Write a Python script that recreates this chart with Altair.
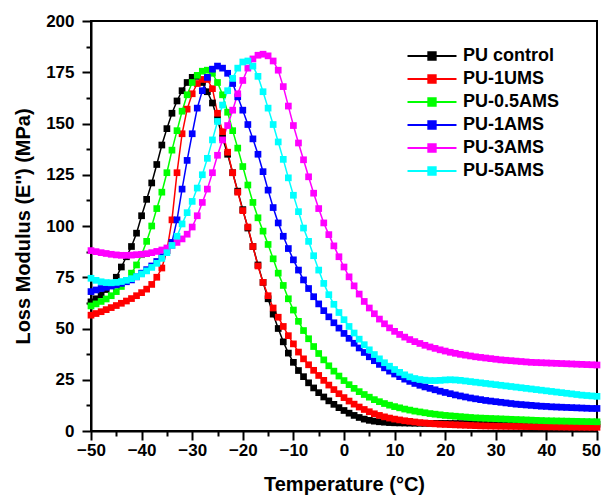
import altair as alt
import pandas as pd

temps = list(range(-50, 51))
series_names = ["PU control", "PU-1UMS", "PU-0.5AMS", "PU-1AMS", "PU-3AMS", "PU-5AMS"]
series_colors = ["#000000", "#ff0000", "#00ff00", "#0000ff", "#ff00ff", "#00ffff"]

pu_control = [63, 64.5, 66.5, 69, 71.5, 75, 80, 85, 90, 96.5,
              105, 113, 121, 130, 139.5, 147.5, 155, 161, 166, 170,
              172.5, 173, 170, 165.5, 160, 152, 143, 135, 126, 117,
              108, 99, 90, 81, 72.5, 64.5, 57, 50, 43.5, 38,
              33.5, 29.5, 26.5, 23.5, 21, 18.7, 16.6, 14.7, 13, 11.4,
              10, 8.7, 7.6, 6.6, 5.8, 5.2, 4.8, 4.5, 4.3, 4.1,
              4, 3.95, 3.9, 3.85, 3.8, 3.78, 3.76, 3.74, 3.72, 3.7,
              3.68, 3.66, 3.64, 3.62, 3.6, 3.58, 3.56, 3.54, 3.52, 3.5,
              3.49, 3.48, 3.47, 3.46, 3.45, 3.44, 3.43, 3.42, 3.41, 3.4,
              3.39, 3.38, 3.37, 3.36, 3.35, 3.34, 3.33, 3.32, 3.31, 3.3, 3.3]
pu_1ums = [56.5, 57.3, 58.2, 59.2, 60.2, 61.2, 62.3, 63.4, 64.6, 66,
           67.5, 69.2, 71.5, 75, 79.5, 88, 103, 126, 145, 157,
           164.5, 169.5, 171.5, 171.5, 167, 155, 146, 136, 126, 116.5,
           107.5, 99.5, 90, 80.5, 72.5, 66, 60, 55.5, 51, 46.5,
           42.5, 38.5, 35.2, 32.3, 29.6, 27.1, 24.7, 22.4, 20.2, 18.2,
           16.3, 14.6, 13.1, 11.7, 10.5, 9.4, 8.4, 7.6, 6.9, 6.3,
           5.8, 5.4, 5, 4.7, 4.4, 4.1, 3.9, 3.7, 3.5, 3.3,
           3.2, 3.1, 3, 2.9, 2.8, 2.7, 2.6, 2.5, 2.45, 2.4,
           2.35, 2.3, 2.27, 2.24, 2.21, 2.18, 2.15, 2.12, 2.09, 2.06,
           2.03, 2.0, 1.97, 1.94, 1.91, 1.88, 1.86, 1.84, 1.82, 1.81, 1.8]
pu_05ams = [61, 62, 63.2, 64.4, 66, 68, 70.5, 73.5, 77, 81,
            86, 92.5, 100, 108.5, 116.5, 126, 137, 146.5, 156, 164,
            170, 173.5, 175.5, 176, 174.5, 170, 164, 155.5, 146.5, 138,
            129, 120, 111.5, 104, 97.5, 91, 84, 77, 71, 64.5,
            59, 53.5, 49, 45, 41.2, 37.8, 34.7, 31.8, 29.2, 26.8,
            24.6, 22.6, 20.8, 19.2, 17.8, 16.5, 15.3, 14.3, 13.4, 12.6,
            11.9, 11.3, 10.7, 10.2, 9.7, 9.3, 8.9, 8.5, 8.2, 7.9,
            7.6, 7.4, 7.2, 7, 6.8, 6.6, 6.4, 6.3, 6.2, 6.1,
            6, 5.9, 5.8, 5.7, 5.6, 5.5, 5.4, 5.3, 5.2, 5.1,
            5.0, 4.95, 4.9, 4.85, 4.8, 4.75, 4.7, 4.65, 4.6, 4.55, 4.5]
pu_1ams = [68, 68.8, 69.5, 70.1, 70.7, 71.3, 72, 72.8, 73.7, 75.2,
           77, 78.7, 80.5, 82.7, 85, 88, 92, 103, 118, 132,
           145, 157.5, 166, 172.5, 176.5, 178, 177, 174.5, 169.5, 163,
           156.5, 149.5, 142.5, 135, 126.5, 117.5, 109, 101.5, 95, 89,
           83.5, 78.5, 73.7, 69.5, 65.5, 62, 58.7, 55.7, 52.8, 50.2,
           47.6, 45.2, 42.8, 40.5, 38.3, 36.2, 34.3, 32.5, 30.8, 29.2,
           27.8, 26.5, 25.3, 24.2, 23.2, 22.3, 21.5, 20.8, 20.1, 19.4,
           18.8, 18.2, 17.6, 17.1, 16.6, 16.1, 15.7, 15.3, 14.9, 14.6,
           14.3, 14, 13.7, 13.4, 13.1, 12.9, 12.7, 12.5, 12.3, 12.1,
           12, 11.8, 11.7, 11.6, 11.5, 11.4, 11.3, 11.2, 11.1, 11, 11]
pu_3ams = [88, 87.5, 87, 86.6, 86.2, 85.9, 85.7, 85.7, 85.8, 86,
           86.2, 86.5, 87, 87.6, 88.3, 89.3, 90.5, 92, 93.7, 96,
           99.5, 105, 111.5, 118, 126, 134.5, 142, 149, 156.5, 164.5,
           171, 177, 181.5, 183.3, 183.8, 183, 180.5, 176, 168, 158.5,
           149, 140.5, 132.3, 124, 116, 108.5, 101.5, 95.8, 90.3, 85,
           80, 75.2, 70.8, 66.8, 63.2, 60, 57.2, 54.6, 52.3, 50.3,
           48.6, 47.1, 45.8, 44.6, 43.6, 42.7, 41.8, 41, 40.3, 39.6,
           39, 38.4, 37.9, 37.4, 37, 36.6, 36.2, 35.9, 35.6, 35.3,
           35, 34.7, 34.5, 34.3, 34.1, 33.9, 33.7, 33.5, 33.4, 33.3,
           33.2, 33.1, 33, 32.9, 32.8, 32.7, 32.6, 32.5, 32.4, 32.3, 32.2]
pu_5ams = [74.5, 73.5, 72.8, 72.4, 72.3, 72.5, 72.9, 73.5, 74.3, 75.3,
           76.6, 78.1, 79.8, 81.8, 84.2, 87, 90.5, 95, 101, 106.5,
           112, 118.5, 125, 133, 142, 151, 159, 166, 172, 177,
           180, 180.5, 178, 173, 165.5, 157.5, 149.5, 141, 132.5, 123.5,
           115, 107, 99, 92.5, 85.5, 78.5, 72, 66.5, 61.8, 57.8,
           54.3, 51, 47.8, 44.8, 42.1, 39.6, 37.3, 35.2, 33.3, 31.6,
           30, 28.6, 27.4, 26.4, 25.6, 25.1, 24.8, 24.6, 24.6, 24.7,
           24.9, 25, 24.9, 24.7, 24.4, 24.1, 23.8, 23.5, 23.2, 22.9,
           22.6, 22.3, 22, 21.7, 21.4, 21.1, 20.8, 20.5, 20.2, 19.9,
           19.6, 19.3, 19, 18.7, 18.4, 18.1, 17.8, 17.5, 17.3, 17.1, 16.9]

x_major = list(range(-50, 51, 10))
x_minor = list(range(-45, 50, 10))
y_major = [0, 25, 50, 75, 100, 125, 150, 175, 200]
y_minor = [12.5, 37.5, 62.5, 87.5, 112.5, 137.5, 162.5, 187.5]

all_series = [pu_control, pu_1ums, pu_05ams, pu_1ams, pu_3ams, pu_5ams]
rows = []
for name, vals in zip(series_names, all_series):
    for t, v in zip(temps, vals):
        rows.append({"T": t, "E": v, "series": name})
df = pd.DataFrame(rows)

FONT = "Liberation Sans"
x_scale = alt.Scale(domain=[-50, 50], nice=False, zero=False)
y_scale = alt.Scale(domain=[0, 200], nice=False)

legend_symbol = "M-4,0H4M-0.6,-0.6H0.6V0.6H-0.6Z"

lines = alt.Chart(df).mark_line(
    strokeWidth=1.5,
    point=alt.OverlayMarkDef(shape="square", filled=True, size=45, opacity=1),
).encode(
    x=alt.X("T:Q", scale=x_scale,
            axis=alt.Axis(values=x_major, title="Temperature (°C)", tickSize=9,
                          labelPadding=2, titlePadding=16, orient="bottom",
                          labelFlush=False,
                          labelOffset={"condition": {"test": "datum.value >= 50", "value": -6},
                                       "value": 0})),
    y=alt.Y("E:Q", scale=y_scale,
            axis=alt.Axis(values=y_major, title="Loss Modulus (E'') (MPa)", tickSize=9,
                          labelPadding=8, titlePadding=12, orient="left",
                          labelFlush=False)),
    color=alt.Color("series:N",
                    scale=alt.Scale(domain=series_names, range=series_colors),
                    legend=alt.Legend(title=None, orient="none", legendX=332, legendY=26,
                                      symbolType=legend_symbol, symbolSize=150,
                                      symbolStrokeWidth=2, labelOffset=22,
                                      labelFont=FONT, labelFontWeight="bold",
                                      labelFontSize=18, labelColor="black",
                                      rowPadding=5, padding=0)),
)

minor = alt.Chart(df).mark_point(opacity=0).encode(
    x=alt.X("T:Q", scale=x_scale,
            axis=alt.Axis(values=x_minor, labels=False, domain=False, tickSize=5,
                          title=None, orient="bottom")),
    y=alt.Y("E:Q", scale=y_scale,
            axis=alt.Axis(values=y_minor, labels=False, domain=False, tickSize=5,
                          title=None, orient="left")),
)

chart = alt.layer(lines, minor).resolve_axis(x="independent", y="independent").properties(
    width=506, height=410,
    padding={"left": 83, "top": 13, "right": 4, "bottom": 64},
    autosize=alt.AutoSizeParams(type="none"),
).configure_axis(
    grid=False, domainColor="black", domainWidth=2, tickColor="black", tickWidth=2,
    labelFont=FONT, labelFontWeight="bold", labelFontSize=17, labelColor="black",
    titleFont=FONT, titleFontWeight="bold", titleFontSize=20, titleColor="black",
).configure_view(stroke="black", strokeWidth=2)

chart.save("out.html", embed_options={"renderer": "svg", "actions": False})
